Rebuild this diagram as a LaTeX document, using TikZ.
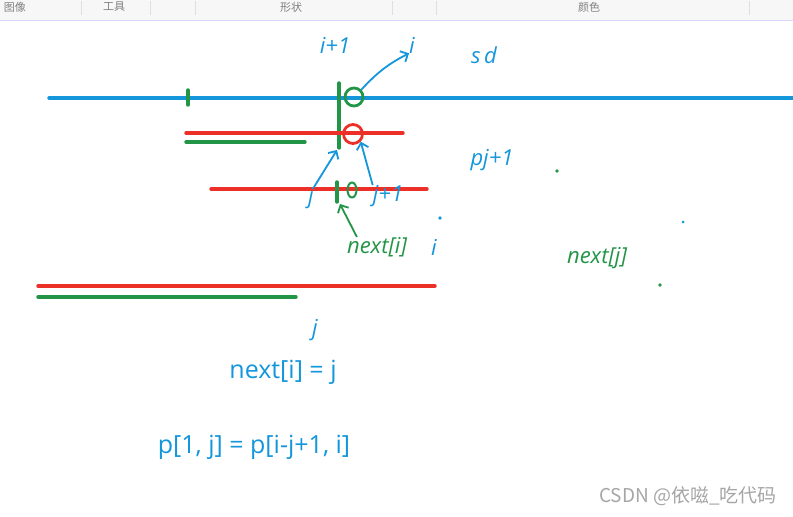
\documentclass[tikz,border=0pt]{standalone}
\usepackage{fontspec}
\setmainfont{Open Sans}
\newfontfamily\cjk{Noto Sans CJK SC}
\definecolor{penblue}{RGB}{20,150,220}
\definecolor{penred}{RGB}{236,48,40}
\definecolor{pengreen}{RGB}{34,150,70}
\tikzset{
  pen/.style={line width=3.4pt, line cap=round},
  hand/.style={font=\fontsize{22}{22}\selectfont\itshape, inner sep=0pt},
  tip/.style={line width=1.8pt, ->, >={Straight Barb[length=6pt]}}
}
\usetikzlibrary{arrows.meta}
\begin{document}
\begin{tikzpicture}[x=1pt,y=-1pt]
                \useasboundingbox (0,0) rectangle (793,517);
                \fill[white] (0,0) rectangle (793,517);
                % Toolbar
                \fill[gray!6] (0,0) rectangle (793,20);
                \draw[blue!15, line width=1.5pt] (0,20.5) -- (793,20.5);
                \foreach \x in {81,150,195,392,436,749}
                  \draw[gray!25] (\x,1) -- (\x,15);
                \node[font=\cjk\fontsize{11}{11}\selectfont, text=gray] at (15,7) {图像};
                \node[font=\cjk\fontsize{11}{11}\selectfont, text=gray] at (114,7) {工具};
                \node[font=\cjk\fontsize{11}{11}\selectfont, text=gray] at (291,7) {形状};
                \node[font=\cjk\fontsize{11}{11}\selectfont, text=gray] at (589,7) {颜色};
                % Blue line s
                \draw[pen, penblue] (49,98) -- (793,98);
                \draw[pen, pengreen] (188,90) -- (188,105);
                \draw[pen, pengreen] (339,83) -- (339,148);
                \node[circle, draw=pengreen, line width=2.8pt, minimum size=18pt, inner sep=0pt] (ci) at (354,97) {};
                % Red line p and green prefix
                \draw[pen, penred] (186,133) -- (403,133);
                \node[circle, draw=penred, line width=2.8pt, minimum size=19pt, inner sep=0pt] (cj) at (353,134) {};
                \draw[pen, pengreen] (186,142) -- (305,142);
                % Red line p, shifted
                \draw[pen, penred] (211,189) -- (427,189);
                \draw[pen, pengreen] (337,182) -- (337,202);
                \draw[pengreen, line width=2pt] (352,190) ellipse (4.5pt and 7.5pt);
                % Bottom lines
                \draw[pen, penred] (38,286) -- (435,286);
                \draw[pen, pengreen] (38,297) -- (296,297);
                % Handwritten labels
                \node[hand, text=penblue] (ip1) at (335,45) {i+1};
                \node[hand, text=penblue] (il) at (412,45) {i};
                \node[hand, text=penblue] at (484,55) {s\,d};
                \node[hand, text=penblue] (jl) at (311,198) {j};
                \node[hand, text=penblue] (jp1) at (388,196) {j+1};
                \node[hand, text=pengreen] (nx) at (377,247) {next[i]};
                \node[hand, text=penblue] at (434,247) {i};
                \node[hand, text=penblue] at (492,160) {pj+1};
                \node[hand, text=pengreen] at (597,258) {next[j]};
                \node[hand, text=penblue] at (315,330) {j};
                \coordinate (gbot) at (337,150);
                \coordinate (gtick) at (340,204);
                % Arrows
                \draw[tip, penblue] (ci.north east) to[bend left=10] (il.south west);
                \draw[tip, penblue] (jl.north east) -- (gbot);
                \draw[tip, penblue] (jp1.north west) -- (cj.south east);
                \draw[tip, pengreen] (nx.north west) ++(10,0) -- (gtick);
                % Dots
                \fill[pengreen] (557,171) circle (1.8pt);
                \fill[pengreen] (660,285) circle (1.8pt);
                \fill[penblue] (440,218) circle (1.8pt);
                \fill[penblue] (683,222) circle (1.5pt);
                % Formulas
                \node[text=penblue, font=\fontsize{25}{25}\selectfont] at (283,372) {next[i] = j};
                \node[text=penblue, font=\fontsize{25}{25}\selectfont] at (254,447) {p[1, j] = p[i-j+1, i]};
                \node[text=gray!70, font=\cjk\fontsize{19}{19}\selectfont] at (688,496) {CSDN @依嗞\_吃代码};
            \end{tikzpicture}
\end{document}
